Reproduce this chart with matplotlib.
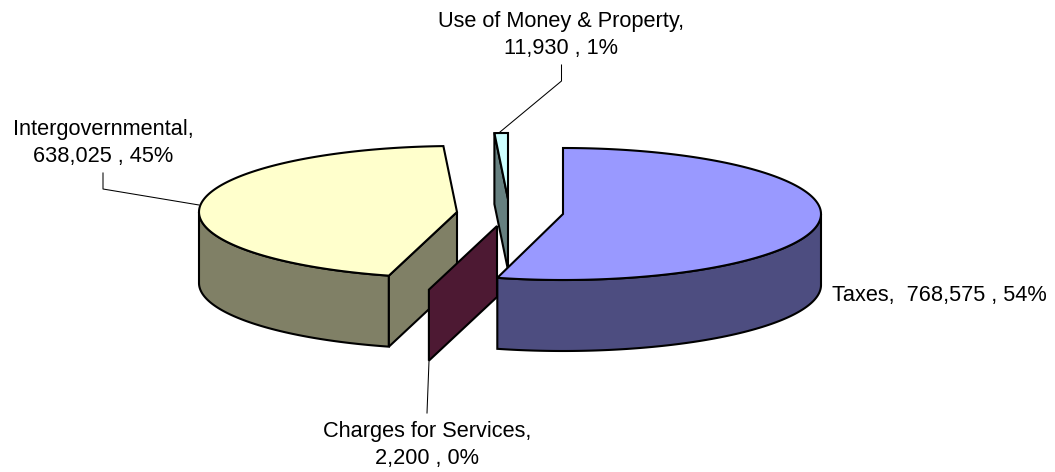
import numpy as np
import matplotlib
matplotlib.use("Agg")
import matplotlib.pyplot as plt
from matplotlib.patches import Polygon

plt.rcParams['font.family'] = ['Liberation Sans', 'DejaVu Sans']

names = ["Taxes", "Charges for Services", "Intergovernmental", "Use of Money & Property"]
values = [768575, 2200, 638025, 11930]
top_colors = ["#9999FF", "#993366", "#FFFFCC", "#CCFFFF"]
side_colors = ["#4D4D80", "#4D1933", "#808066", "#668080"]

# exploded centre of each slice, pixels
centers = [(563, 214), (497, 226), (457, 212), (508, 199)]

RX = 258
RY = 66
DEPTH = 71
LW = 1.5

total = sum(values)
edges = np.concatenate([[0], np.cumsum(values)]) / total * 360


def rim(c, t1, t2, drop=0):
    # points of the ellipse, angle clockwise from 12 o'clock
    t = np.radians(np.linspace(t1, t2, 200))
    return np.column_stack([c[0] + RX*np.sin(t), c[1] - RY*np.cos(t) + drop])


def draw_top(ax, i, zorder):
    c = centers[i]
    pts = np.vstack([[c], rim(c, edges[i], edges[i+1])])
    ax.add_patch(Polygon(pts, closed=True, fc=top_colors[i], ec="black", lw=LW,
                         joinstyle="miter", zorder=zorder))


def draw_side(ax, i, t1, t2, zorder):
    c = centers[i]
    pts = np.vstack([rim(c, t1, t2), rim(c, t2, t1, DEPTH)])
    ax.add_patch(Polygon(pts, closed=True, fc=side_colors[i], ec="black", lw=LW,
                         joinstyle="miter", zorder=zorder))


def draw_cut(ax, i, t, zorder):
    c = centers[i]
    p = rim(c, t, t)[0]
    pts = [c, p, (p[0], p[1] + DEPTH), (c[0], c[1] + DEPTH)]
    ax.add_patch(Polygon(pts, closed=True, fc=side_colors[i], ec="black", lw=LW,
                         joinstyle="miter", zorder=zorder))


fig = plt.figure(figsize=(10.55, 4.72), dpi=100)
ax = fig.add_axes([0, 0, 1, 1])
ax.set_xlim(0, 1055)
ax.set_ylim(472, 0)
ax.axis("off")

# back to front: use of money, intergovernmental, taxes, charges
draw_cut(ax, 3, edges[3], 1)
draw_top(ax, 3, 2)

draw_side(ax, 2, edges[2], 270, 3)
draw_cut(ax, 2, edges[2], 3)
draw_top(ax, 2, 4)

draw_side(ax, 0, 90, edges[1], 5)
draw_top(ax, 0, 6)

draw_cut(ax, 1, edges[2], 7)

pct = [round(v / total * 100) for v in values]
labels = ["%s,  %s , %d%%" % (names[0], format(values[0], ","), pct[0])]
for i in [1, 2, 3]:
    labels.append("%s,\n%s , %d%%" % (names[i], format(values[i], ","), pct[i]))

FS = 15.7
LS = 1.4
ax.text(832, 296, labels[0], fontsize=FS, ha="left", va="center", color="black")
ax.text(427, 445, labels[1], fontsize=FS, ha="center", va="center", multialignment="center", linespacing=LS, color="black")
ax.text(103, 143, labels[2], fontsize=FS, ha="center", va="center", multialignment="center", linespacing=LS, color="black")
ax.text(561, 35, labels[3], fontsize=FS, ha="center", va="center", multialignment="center", linespacing=LS, color="black")

# leader lines
ax.plot([561.5, 561.5, 500], [65, 81, 132], color="black", lw=0.75)
ax.plot([103, 103, 199], [173, 189, 205], color="black", lw=0.75)
ax.plot([427, 429], [413, 361], color="black", lw=0.75)

fig.savefig("out.png", dpi=100)
